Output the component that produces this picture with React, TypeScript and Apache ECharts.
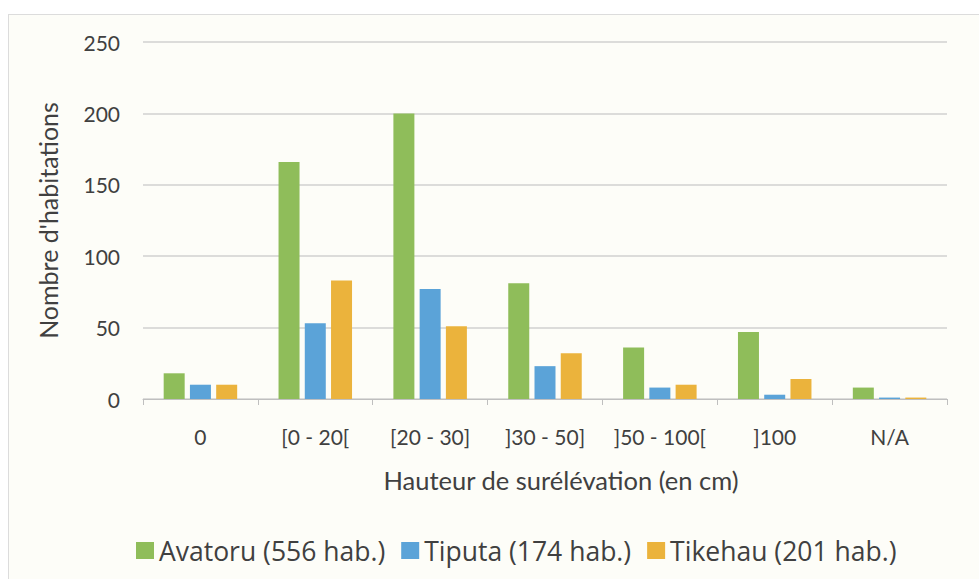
import React, { useEffect, useRef } from "react";
import * as echarts from "echarts";

const categories = ["0", "[0 - 20[", "[20 - 30]", "]30 - 50]", "]50 - 100[", "]100", "N/A"];
const avatoru = [18, 166, 200, 81, 36, 47, 8];
const tiputa = [10, 53, 77, 23, 8, 3, 1];
const tikehau = [10, 83, 51, 32, 10, 14, 1];
const seriesNames = ["Avatoru (556 hab.)", "Tiputa (174 hab.)", "Tikehau (201 hab.)"];
const colors = ["#8fbd5a", "#5ba3d8", "#ebb33c"];
const FONT = "Lato, 'Open Sans', sans-serif";
const LEGEND_FONT = "'Open Sans', Lato, sans-serif";

export default function App() {
  const ref = useRef<HTMLDivElement>(null);
  useEffect(() => {
    if (!ref.current) return;
    const chart = echarts.init(ref.current, undefined, { renderer: "svg" });
    const data = [avatoru, tiputa, tikehau];
    chart.setOption({
      animation: false,
      textStyle: { fontFamily: FONT },
      grid: { left: 143, right: 32, top: 42, bottom: 180 },
      legend: {
        data: seriesNames,
        top: 532,
        left: 131,
        itemWidth: 18,
        itemHeight: 17,
        itemGap: 16,
        icon: "rect",
        textStyle: { fontSize: 26.5, color: "#404040", fontFamily: LEGEND_FONT },
      },
      xAxis: {
        type: "category",
        data: categories,
        name: "Hauteur de surélévation (en cm)",
        nameLocation: "middle",
        nameGap: 68,
        nameTextStyle: { fontSize: 25.5, color: "#404040", fontFamily: FONT, padding: [0, 0, 0, 32] },
        axisLine: { lineStyle: { color: "#bfbfbf", width: 1 } },
        axisTick: { show: true, length: 6, lineStyle: { color: "#bfbfbf" } },
        axisLabel: { fontSize: 21, color: "#404040", margin: 27, interval: 0, fontFamily: FONT },
      },
      yAxis: {
        type: "value",
        min: 0,
        max: 250,
        interval: 50,
        name: "Nombre d'habitations",
        nameLocation: "middle",
        nameGap: 83,
        nameRotate: 90,
        nameTextStyle: { fontSize: 25, color: "#404040", fontFamily: FONT },
        axisLine: { show: false },
        axisTick: { show: false },
        axisLabel: { fontSize: 21, color: "#404040", margin: 23, fontFamily: FONT },
        splitLine: { lineStyle: { color: "#d0d0d0", width: 1.5 } },
      },
      series: seriesNames.map((n, i) => ({
        name: n,
        type: "bar",
        data: data[i],
        barWidth: 21,
        barGap: "25%",
        itemStyle: { color: colors[i] },
      })),
    });
    return () => chart.dispose();
  }, []);
  return (
    <div style={{ position: "absolute", left: 0, top: 0, width: 979, height: 579, background: "#ffffff", overflow: "hidden" }}>
      <div
        style={{
          position: "absolute",
          left: 8,
          top: 14,
          width: 990,
          height: 600,
          border: "1px solid #dcdcdc",
          background: "#fdfdf8",
        }}
      />
      <div ref={ref} style={{ position: "absolute", left: 0, top: 0, width: 979, height: 579 }} />
    </div>
  );
}
